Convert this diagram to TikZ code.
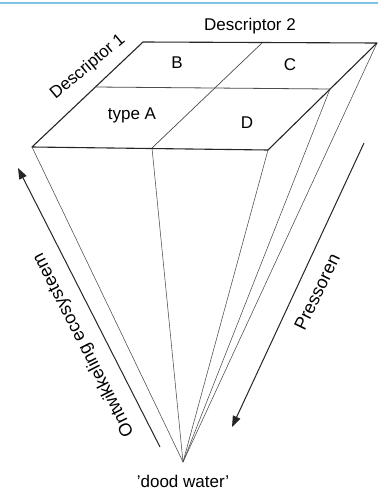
\documentclass[tikz,border=0pt]{standalone}
\usepackage{fontspec}
\setmainfont{Liberation Sans}
\usetikzlibrary{arrows.meta}
\definecolor{topblue}{RGB}{125,195,228}
\begin{document}
\begin{tikzpicture}[x=1pt,y=-1pt,
  edge/.style={draw=black!85,line width=1.1pt,line join=round},
  ray/.style={draw=black!70,line width=0.55pt},
  axis/.style={draw=black!85,line width=1pt,-{Triangle[length=11pt,width=8pt]}},
  lbl/.style={font=\fontsize{17}{20}\selectfont,inner sep=0pt},
  rlbl/.style={font=\fontsize{18}{21}\selectfont,inner sep=0pt}]
\useasboundingbox (0,0) rectangle (378,490);
\fill[white] (0,0) rectangle (378,490);
% top rule
\draw[topblue,line width=2pt] (0,3) -- (378,3);
% corners of the top face
\coordinate (BL) at (143,42);
\coordinate (BR) at (377,43);
\coordinate (FR) at (268,150);
\coordinate (FL) at (32,147);
\coordinate (BM) at (262,43);
\coordinate (FM) at (152,148);
\coordinate (ML) at (95,87);
\coordinate (MR) at (330,89);
\coordinate (apex) at (183,462);
% rays to the apex
\draw[ray] (FL) -- (apex);
\draw[ray] (FM) -- (apex);
\draw[ray] (FR) -- (apex);
\draw[ray] (MR) -- (apex);
\draw[ray] (BR) -- (apex);
% top face
\draw[edge] (FL) -- (BL) -- (BR) -- (FR) -- cycle;
\draw[ray,line width=0.7pt] (BM) -- (FM);
\draw[ray,line width=0.8pt] (ML) -- (MR);
% cell labels
\node[lbl] (B) at (177,63) {B};
\node[lbl] (C) at (290,65) {C};
\node[lbl] (A) at (132,115) {type A};
\node[lbl] (D) at (247,123) {D};
\node[lbl] (d2) at (250,26) {Descriptor 2};
\node[lbl,rotate=40] (d1) at (88,67) {Descriptor 1};
% axes
\coordinate (oS) at (160,447);
\coordinate (oE) at (18,168);
\draw[axis] (oS) -- (oE);
\node[rlbl,rotate=117] (onto) at (84,345) {Ontwikkeling ecosysteem};
\coordinate (pS) at (364,143);
\coordinate (pE) at (232,427);
\draw[axis] (pS) -- (pE);
\node[rlbl,rotate=64] (pres) at (317,292) {Pressoren};
\node[lbl] (dood) at (183,481) {'dood water'};
\end{tikzpicture}
\end{document}
